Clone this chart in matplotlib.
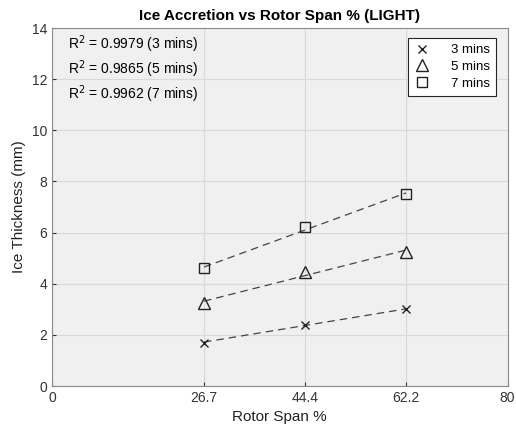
import numpy as np
import matplotlib
matplotlib.use("Agg")
import matplotlib.pyplot as plt

plt.rcParams['font.family'] = ['Liberation Sans', 'DejaVu Sans']

span = [26.7, 44.4, 62.2]
series_labels = ['3 mins', '5 mins', '7 mins']
thick_3 = [1.7, 2.4, 3.0]
thick_5 = [3.25, 4.45, 5.25]
thick_7 = [4.6, 6.2, 7.5]
r2_values = ['0.9979', '0.9865', '0.9962']
xticks = [0, 26.7, 44.4, 62.2, 80]
xticklabels = ['0', '26.7', '44.4', '62.2', '80']

fig = plt.figure(figsize=(5.16, 4.36), dpi=100)
ax = fig.add_axes([52/516, 1-386/436, (507.5-52)/516, (386-28)/436])
ax.set_facecolor('#f0f0f0')

markers = ['x', '^', 's']
sizes = [6, 9, 7]
for y, m, ms, lab in zip([thick_3, thick_5, thick_7], markers, sizes, series_labels):
    p = np.polyfit(span, y, 1)
    xs = np.array(span)
    ax.plot(xs, np.polyval(p, xs), linestyle=(0, (6, 4)), color='#444444', lw=0.9)
    ax.plot(span, y, linestyle='none', marker=m, markersize=ms, markerfacecolor='none',
            markeredgecolor='#222222', color='#222222', markeredgewidth=1.0, label=lab)

ax.set_xlim(0, 80)
ax.set_ylim(0, 14)
ax.set_xticks(xticks)
ax.set_xticklabels(xticklabels)
ax.set_yticks(range(0, 15, 2))
ax.grid(True, color='#d9d9d9', lw=0.8)
ax.set_axisbelow(True)
for s in ax.spines.values():
    s.set_color('#8a8a8a')
    s.set_linewidth(0.8)
ax.tick_params(labelsize=10, colors='#333333', direction='in', length=3)
ax.set_xlabel('Rotor Span %', fontsize=11, color='#222222')
ax.set_ylabel('Ice Thickness (mm)', fontsize=11, color='#222222')
ax.set_title('Ice Accretion vs Rotor Span % (LIGHT)', fontsize=11, fontweight='bold', pad=6)

for i, (r2, lab) in enumerate(zip(r2_values, series_labels)):
    ax.text(0.035, 1 - (16 + i * 25) / 358, f'R$^2$ = {r2} ({lab})', transform=ax.transAxes,
            fontsize=10, va='center', ha='left')

leg = ax.legend(loc='upper right', fontsize=9.5, frameon=True, fancybox=False,
                edgecolor='#262626', facecolor='white', framealpha=1,
                handlelength=1.2, borderpad=0.45, labelspacing=0.35, handletextpad=1.6,
                borderaxespad=0, bbox_to_anchor=(0.975, 0.972))
leg.get_frame().set_linewidth(0.8)

fig.savefig('out.png', dpi=100)
